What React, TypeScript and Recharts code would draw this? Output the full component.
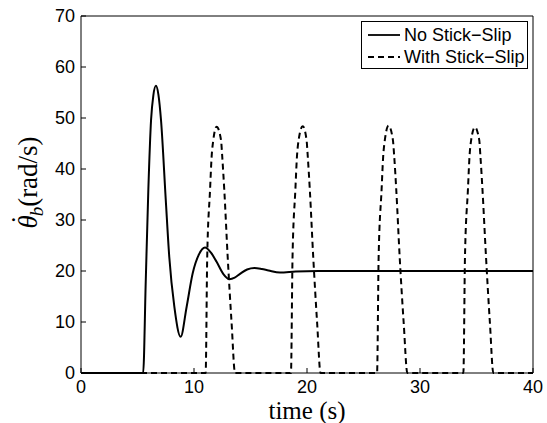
import React from "react";
import { LineChart, Line, XAxis, YAxis, Legend, Label } from "recharts";

// No stick-slip response (solid)
const tNoSlip = [0, 5.5, 5.73, 5.96, 6.2, 6.4, 6.63, 6.85, 7.08, 7.5, 7.81, 8.26, 8.82, 9.35, 9.88, 10.45, 10.97, 11.5, 12.0, 12.6, 13.13, 13.6, 14.1, 14.7, 15.35, 16.0, 16.6, 17.6, 19.0, 21.0, 40];
const vNoSlip = [0, 0, 18, 36, 49.6, 54.4, 56.3, 54.6, 49.6, 34, 22.8, 13, 7.1, 13, 19.5, 23.3, 24.6, 23.6, 21.8, 19.4, 18.4, 18.7, 19.5, 20.3, 20.6, 20.4, 20.1, 19.7, 19.9, 20, 20];

// With stick-slip response (dashed), four pulses
const tWithSlip = [
  0,
  11.03, 11.17, 11.42, 11.56, 11.71, 12.0, 12.39, 12.5, 12.68, 12.98, 13.33, 13.63,
  18.58, 18.72, 18.97, 19.11, 19.26, 19.62, 19.96, 20.07, 20.25, 20.55, 20.9, 21.2,
  26.2, 26.34, 26.6, 26.74, 26.89, 27.22, 27.6, 27.72, 27.9, 28.2, 28.56, 28.88,
  33.84, 33.98, 34.24, 34.38, 34.53, 34.86, 35.24, 35.35, 35.53, 35.84, 36.19, 36.49,
  40,
];
const vWithSlip = [
  0,
  0, 22.8, 35.9, 42.4, 45.7, 48.3, 45.7, 42.4, 35.9, 22.8, 9.7, 0,
  0, 22.8, 35.9, 42.4, 45.7, 48.4, 45.7, 42.4, 35.9, 22.8, 9.7, 0,
  0, 22.8, 35.9, 42.4, 45.7, 48.5, 45.7, 42.4, 35.9, 22.8, 9.7, 0,
  0, 22.8, 35.9, 42.4, 45.7, 48.2, 45.7, 42.4, 35.9, 22.8, 9.7, 0,
  0,
];

const xTicks = [0, 10, 20, 30, 40];
const yTicks = [0, 10, 20, 30, 40, 50, 60, 70];

const NAME_NO = "No Stick\u2212Slip";
const NAME_WITH = "With Stick\u2212Slip";

const noSlipData = tNoSlip.map((t, i) => ({ t, v: vNoSlip[i] }));
const withSlipData = tWithSlip.map((t, i) => ({ t, v: vWithSlip[i] }));

const DASH = "6 4";
const TICK_LEN = 5;
const SANS = "'Liberation Sans', Arial, sans-serif";
const SERIF = "'Liberation Serif', 'Times New Roman', serif";

// matlab style ticks pointing into the plot box
const makeTick = (side: "bottom" | "left" | "top" | "right", gap: number, showLabel: boolean) => (props: any) => {
  const { x, y, payload } = props;
  let line;
  if (side === "bottom") line = { x1: x, x2: x, y1: y - gap, y2: y - gap - TICK_LEN };
  else if (side === "left") line = { x1: x + gap, x2: x + gap + TICK_LEN, y1: y, y2: y };
  else if (side === "top") line = { x1: x, x2: x, y1: y + gap, y2: y + gap + TICK_LEN };
  else line = { x1: x - gap, x2: x - gap - TICK_LEN, y1: y, y2: y };
  return (
    <g>
      <line {...line} stroke="#000" strokeWidth={1} />
      {showLabel && (
        <text
          x={x}
          y={y}
          dy={side === "bottom" ? "0.72em" : "0.36em"}
          textAnchor={side === "bottom" ? "middle" : "end"}
          fontFamily={SANS}
          fontSize={18}
          fill="#000"
        >
          {payload.value}
        </text>
      )}
    </g>
  );
};

const YTitle = ({ viewBox }: any) => {
  const x = viewBox.x + 16;
  const y = viewBox.y + viewBox.height / 2 - 12;
  return (
    <text
      x={x}
      y={y}
      transform={`rotate(-90, ${x}, ${y})`}
      textAnchor="middle"
      fontFamily={SERIF}
      fontSize={27}
      fill="#000"
    >
      <tspan fontStyle="italic">{"\u03B8"}</tspan>
      <tspan dx={-9} dy={-7}>{"\u02D9"}</tspan>
      <tspan fontStyle="italic" fontSize={19} dx={-1} dy={13}>b</tspan>
      <tspan dy={-6}>(rad/s)</tspan>
    </text>
  );
};

const XTitle = ({ viewBox }: any) => (
  <text
    x={viewBox.x + viewBox.width / 2}
    y={viewBox.y + 46.3}
    textAnchor="middle"
    fontFamily={SERIF}
    fontSize={25}
    fill="#000"
  >
    time (s)
  </text>
);

const renderLegend = (props: any) => (
  <div
    style={{
      boxSizing: "border-box",
      width: 167,
      height: 48,
      border: "1px solid #000",
      background: "#fff",
      padding: "2px 0 0 6px",
      fontFamily: SANS,
      fontSize: 18,
      color: "#000",
    }}
  >
    {(props.payload || []).map((entry: any) => (
      <div key={entry.value} style={{ display: "flex", alignItems: "center", height: 22, lineHeight: "22px" }}>
        <svg width={32} height={10} style={{ marginRight: 4 }}>
          <line
            x1={0}
            x2={32}
            y1={5}
            y2={5}
            stroke="#000"
            strokeWidth={1.8}
            strokeDasharray={entry.value === NAME_WITH ? DASH : undefined}
          />
        </svg>
        <span style={{ whiteSpace: "nowrap" }}>{entry.value}</span>
      </div>
    ))}
  </div>
);

const App = () => {
  return (
    <div style={{ position: "absolute", left: 0, top: 0, width: 547, height: 423, background: "#fff" }}>
      <LineChart width={547} height={423} margin={{ top: 15, right: 13, bottom: 0, left: 21 }}>
        <XAxis
          dataKey="t"
          type="number"
          domain={[0, 40]}
          ticks={xTicks}
          height={50}
          axisLine={{ stroke: "#000" }}
          tickLine={false}
          tickSize={0}
          tickMargin={7}
          tick={makeTick("bottom", 7, true)}
        >
          <Label content={<XTitle />} />
        </XAxis>
        <XAxis
          xAxisId="top"
          orientation="top"
          type="number"
          domain={[0, 40]}
          ticks={xTicks}
          height={1}
          axisLine={{ stroke: "#000" }}
          tickLine={false}
          tickSize={0}
          tickMargin={0}
          tick={makeTick("top", 0, false)}
        />
        <YAxis
          type="number"
          domain={[0, 70]}
          ticks={yTicks}
          width={60}
          axisLine={{ stroke: "#000" }}
          tickLine={false}
          tickSize={0}
          tickMargin={6}
          tick={makeTick("left", 6, true)}
        >
          <Label content={<YTitle />} />
        </YAxis>
        <YAxis
          yAxisId="right"
          orientation="right"
          type="number"
          domain={[0, 70]}
          ticks={yTicks}
          width={1}
          axisLine={{ stroke: "#000" }}
          tickLine={false}
          tickSize={0}
          tickMargin={0}
          tick={makeTick("right", 0, false)}
        />
        <Legend
          layout="vertical"
          align="center"
          verticalAlign="middle"
          content={renderLegend}
          wrapperStyle={{ left: 361, top: 21, width: 167, height: 48 }}
        />
        <Line
          data={noSlipData}
          dataKey="v"
          name={NAME_NO}
          type="monotone"
          stroke="#000"
          strokeWidth={2}
          dot={false}
          activeDot={false}
          isAnimationActive={false}
        />
        <Line
          data={withSlipData}
          dataKey="v"
          name={NAME_WITH}
          type="monotone"
          stroke="#000"
          strokeWidth={2}
          strokeDasharray={DASH}
          dot={false}
          activeDot={false}
          isAnimationActive={false}
        />
      </LineChart>
    </div>
  );
};

export default App;
